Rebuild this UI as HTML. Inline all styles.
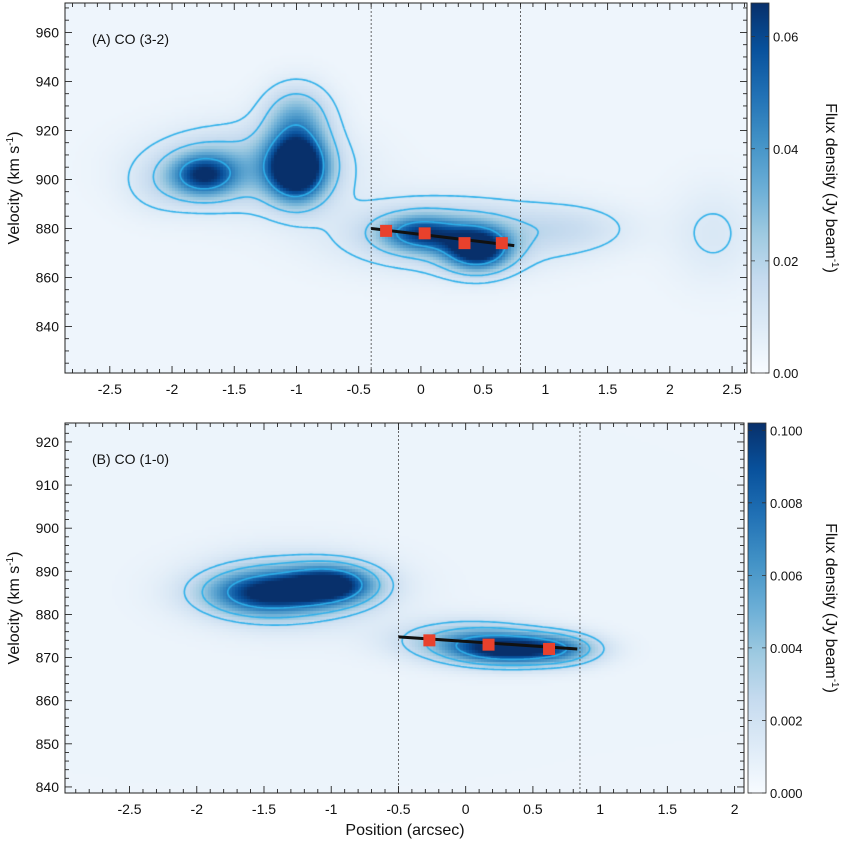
<!DOCTYPE html>
<html><head><meta charset="utf-8">
<style>
html,body{margin:0;padding:0;background:#fff;width:844px;height:844px;overflow:hidden}
#wrap{position:relative;width:844px;height:844px}
canvas{position:absolute}
svg{position:absolute;left:0;top:0}
text{font-family:"Liberation Sans",sans-serif;fill:#111}
</style></head>
<body>
<div id="wrap">
<canvas id="cA"></canvas>
<canvas id="cB"></canvas>
<svg id="ov" width="844" height="844">
<defs>
<linearGradient id="blues" x1="0" y1="1" x2="0" y2="0">
<stop offset="0" stop-color="#f7fbff"/><stop offset="0.125" stop-color="#deebf7"/><stop offset="0.25" stop-color="#c6dbef"/><stop offset="0.375" stop-color="#9ecae1"/><stop offset="0.5" stop-color="#6baed6"/><stop offset="0.625" stop-color="#4292c6"/><stop offset="0.75" stop-color="#2171b5"/><stop offset="0.875" stop-color="#08519c"/><stop offset="1" stop-color="#08306b"/>
</linearGradient>
</defs>
</svg>
</div>
<script>
// ---------- Panel A data: CO (3-2) emission components ----------
const aPos  = [-1.75, -1.0, -1.0, -1.4, 0.0, 0.45, 0.2, 1.2, 2.35, -2.1];
const aVel  = [902, 905, 925, 905, 878, 872, 878, 880, 878, 897];
const aAmp  = [0.05, 0.085, 0.028, 0.022, 0.045, 0.07, 0.018, 0.009, 0.007, 0.006];
const aSigX = [0.18, 0.16, 0.18, 0.5, 0.22, 0.18, 0.6, 0.35, 0.25, 0.2];
const aSigV = [6, 9, 9, 11, 5, 6, 10, 7, 14, 8];
const aLevels = [0.006, 0.016, 0.045];
const aSqPos = [-0.28, 0.03, 0.35, 0.65];
const aSqVel = [879, 878, 874, 874];
const aLinePos = [-0.4, 0.75];
const aLineVel = [880, 873];
const aDash = [-0.4, 0.8];
const aXTicks = [-2.5, -2, -1.5, -1, -0.5, 0, 0.5, 1, 1.5, 2, 2.5];
const aYTicks = [840, 860, 880, 900, 920, 940, 960];
const aCbTicks = [0, 0.02, 0.04, 0.06];
const aCbLabels = ["0.00", "0.02", "0.04", "0.06"];

// ---------- Panel B data: CO (1-0) emission components ----------
const bPos  = [-1.5, -1.0, -1.3, 0.3, 0.0, 0.7];
const bVel  = [885, 887, 886, 872, 874, 872];
const bAmp  = [0.0075, 0.0085, 0.0035, 0.0085, 0.004, 0.0045];
const bSigX = [0.3, 0.22, 0.45, 0.28, 0.35, 0.22];
const bSigV = [3.5, 3, 5.5, 2.5, 3.2, 2.5];
const bLevels = [0.0018, 0.0035, 0.007];
const bSqPos = [-0.27, 0.17, 0.62];
const bSqVel = [874, 873, 872];
const bLinePos = [-0.5, 0.83];
const bLineVel = [874.8, 872];
const bDash = [-0.5, 0.85];
const bXTicks = [-2.5, -2, -1.5, -1, -0.5, 0, 0.5, 1, 1.5, 2];
const bYTicks = [840, 850, 860, 870, 880, 890, 900, 910, 920];
const bCbTicks = [0, 0.002, 0.004, 0.006, 0.008, 0.01];
const bCbLabels = ["0.000", "0.002", "0.004", "0.006", "0.008", "0.100"];

const NS = "http://www.w3.org/2000/svg";
const ov = document.getElementById('ov');
function mk(tag, attrs, parent) {
  const e = document.createElementNS(NS, tag);
  for (const k in attrs) e.setAttribute(k, attrs[k]);
  (parent || ov).appendChild(e);
  return e;
}
const stops = [[247,251,255],[222,235,247],[198,219,239],[158,202,225],[107,174,214],[66,146,198],[33,113,181],[8,81,156],[8,48,107]];
function cmap(t) {
  t = Math.max(0, Math.min(1, t)) * 8;
  const i = Math.min(7, Math.floor(t)), f = t - i;
  const a = stops[i], b = stops[i + 1];
  return [a[0] + (b[0] - a[0]) * f, a[1] + (b[1] - a[1]) * f, a[2] + (b[2] - a[2]) * f];
}

function panel(P) {
  const W = P.px1 - P.px0, H = P.py1 - P.py0;
  const sx = v => P.px0 + (v - P.xmin) / (P.xmax - P.xmin) * W;
  const sy = v => P.py1 - (v - P.vmin) / (P.vmax - P.vmin) * H;
  const ix = px => P.xmin + (px - P.px0) / W * (P.xmax - P.xmin);
  const iy = py => P.vmin + (P.py1 - py) / H * (P.vmax - P.vmin);
  function field(x, v) {
    let s = 0;
    for (let k = 0; k < P.pos.length; k++) {
      const dx = (x - P.pos[k]) / P.sigx[k], dv = (v - P.vel[k]) / P.sigv[k];
      s += P.amp[k] * Math.exp(-0.5 * (dx * dx + dv * dv));
    }
    return s;
  }
  const cv = document.getElementById(P.canvas);
  cv.width = W; cv.height = H;
  cv.style.left = P.px0 + 'px'; cv.style.top = P.py0 + 'px';
  const ctx = cv.getContext('2d');
  const st = 3;
  const nx = Math.ceil(W / st) + 1, ny = Math.ceil(H / st) + 1;
  const g = [];
  for (let j = 0; j < ny; j++) {
    const row = [];
    for (let i = 0; i < nx; i++) row.push(field(ix(P.px0 + i * st), iy(P.py0 + j * st)));
    g.push(row);
  }
  for (let j = 0; j < ny; j++) for (let i = 0; i < nx; i++) {
    const c = cmap(g[j][i] / P.cmax + P.base);
    ctx.fillStyle = `rgb(${c[0]|0},${c[1]|0},${c[2]|0})`;
    ctx.fillRect(i * st - 1, j * st - 1, st, st);
  }
  ctx.strokeStyle = '#2eb0ea'; ctx.lineWidth = 1.6;
  for (const L of P.levels) {
    ctx.beginPath();
    for (let j = 0; j < ny - 1; j++) for (let i = 0; i < nx - 1; i++) {
      const a = g[j][i], b = g[j][i + 1], c = g[j + 1][i + 1], d = g[j + 1][i];
      const pts = [];
      const e = (v1, v2, x1, y1, x2, y2) => {
        const t = (L - v1) / (v2 - v1);
        pts.push([(x1 + (x2 - x1) * t) * st, (y1 + (y2 - y1) * t) * st]);
      };
      if ((a > L) !== (b > L)) e(a, b, i, j, i + 1, j);
      if ((b > L) !== (c > L)) e(b, c, i + 1, j, i + 1, j + 1);
      if ((c > L) !== (d > L)) e(c, d, i + 1, j + 1, i, j + 1);
      if ((d > L) !== (a > L)) e(d, a, i, j + 1, i, j);
      for (let k = 0; k + 1 < pts.length; k += 2) {
        ctx.moveTo(pts[k][0], pts[k][1]); ctx.lineTo(pts[k + 1][0], pts[k + 1][1]);
      }
    }
    ctx.stroke();
  }
  for (const d of P.dash) {
    const l = mk('line', {x1: sx(d), x2: sx(d), y1: P.py0, y2: P.py1, stroke: '#444', 'stroke-width': 0.8, 'stroke-dasharray': '2,2'});
    
    
  }
  const fl = mk('line', {x1: sx(P.linePos[0]), y1: sy(P.lineVel[0]), x2: sx(P.linePos[1]), y2: sy(P.lineVel[1]), stroke: '#111', 'stroke-width': 3});
  
  
  for (let k = 0; k < P.sqPos.length; k++) {
    const r = mk('rect', {x: sx(P.sqPos[k]) - 6, y: sy(P.sqVel[k]) - 6, width: 12, height: 12, fill: '#e8412c'});
    
    
  }
  const fr = mk('rect', {x: P.px0, y: P.py0, width: W, height: H, fill: 'none', stroke: '#222', 'stroke-width': 1});
  
  
  let path = '';
  for (let t = Math.ceil(P.xmin * 10); t <= P.xmax * 10; t++) {
    const x = sx(t / 10), len = (t % 5 === 0) ? 7 : 4;
    path += `M${x},${P.py1}v${-len}M${x},${P.py0}v${len}`;
  }
  for (let v = Math.ceil(P.vmin / P.ymin) * P.ymin; v <= P.vmax; v += P.ymin) {
    const y = sy(v), len = (v % P.ymaj === 0) ? 7 : 4;
    path += `M${P.px0},${y}h${len}M${P.px1},${y}h${-len}`;
  }
  const tk = mk('path', {d: path, stroke: '#222', 'stroke-width': 0.9, fill: 'none'});
  
  
  for (const t of P.xticks) {
    const tx = mk('text', {x: sx(t), y: P.py1 + 21, 'font-size': 14, 'text-anchor': 'middle'});
    tx.textContent = String(t);
    
    
  }
  for (const t of P.yticks) {
    const ty = mk('text', {x: P.px0 - 6, y: sy(t) + 5, 'font-size': 14, 'text-anchor': 'end'});
    ty.textContent = String(t);
    
    
  }
  const yt = mk('text', {x: 0, y: 0, 'font-size': 16, 'text-anchor': 'middle', transform: `translate(19,${(P.py0 + P.py1) / 2}) rotate(-90)`});
  yt.innerHTML = 'Velocity  (km s<tspan font-size="10" dy="-6">-1</tspan><tspan dy="6">)</tspan>';
  
  
  const pl = mk('text', {x: P.px0 + 27, y: P.py0 + 41, 'font-size': 14});
  pl.textContent = P.label;
  
  
  const cb = mk('rect', {x: P.cbx, y: P.py0, width: 18, height: H, fill: 'url(#blues)', stroke: '#333', 'stroke-width': 0.8});
  
  
  const cbs = v => P.py1 - v / P.cmax * H;
  for (let k = 0; k < P.cbTicks.length; k++) {
    const y = cbs(P.cbTicks[k]);
    mk('path', {d: `M${P.cbx},${y}h4M${P.cbx + 18},${y}h-4`, stroke: '#333', 'stroke-width': 0.8});
    const tl = mk('text', {x: P.cbx + 22, y: y + 5, 'font-size': 13});
    tl.textContent = P.cbLabels[k];
    
    
  }
  const ct = mk('text', {x: 0, y: 0, 'font-size': 16, 'text-anchor': 'middle', transform: `translate(826,${(P.py0 + P.py1) / 2}) rotate(90)`});
  ct.innerHTML = 'Flux density  (Jy beam<tspan font-size="10" dy="-6">-1</tspan><tspan dy="6">)</tspan>';
  
  
}

panel({canvas: 'cA', px0: 65, px1: 747, py0: 3, py1: 373, xmin: -2.86, xmax: 2.62, vmin: 821, vmax: 972,
  pos: aPos, vel: aVel, amp: aAmp, sigx: aSigX, sigv: aSigV, levels: aLevels, cmax: 0.066, base: 0.04,
  sqPos: aSqPos, sqVel: aSqVel, linePos: aLinePos, lineVel: aLineVel, dash: aDash,
  xticks: aXTicks, yticks: aYTicks, ymin: 5, ymaj: 20, label: '(A) CO (3-2)',
  cbx: 751, cbTicks: aCbTicks, cbLabels: aCbLabels});
panel({canvas: 'cB', px0: 65, px1: 744, py0: 423, py1: 793, xmin: -2.98, xmax: 2.07, vmin: 838.6, vmax: 924.4,
  pos: bPos, vel: bVel, amp: bAmp, sigx: bSigX, sigv: bSigV, levels: bLevels, cmax: 0.0102, base: 0.05,
  sqPos: bSqPos, sqVel: bSqVel, linePos: bLinePos, lineVel: bLineVel, dash: bDash,
  xticks: bXTicks, yticks: bYTicks, ymin: 2, ymaj: 10, label: '(B) CO (1-0)',
  cbx: 748, cbTicks: bCbTicks, cbLabels: bCbLabels});
const xt = mk('text', {x: 405, y: 835, 'font-size': 16, 'text-anchor': 'middle'});
xt.textContent = 'Position  (arcsec)';


</script>
</body></html>
